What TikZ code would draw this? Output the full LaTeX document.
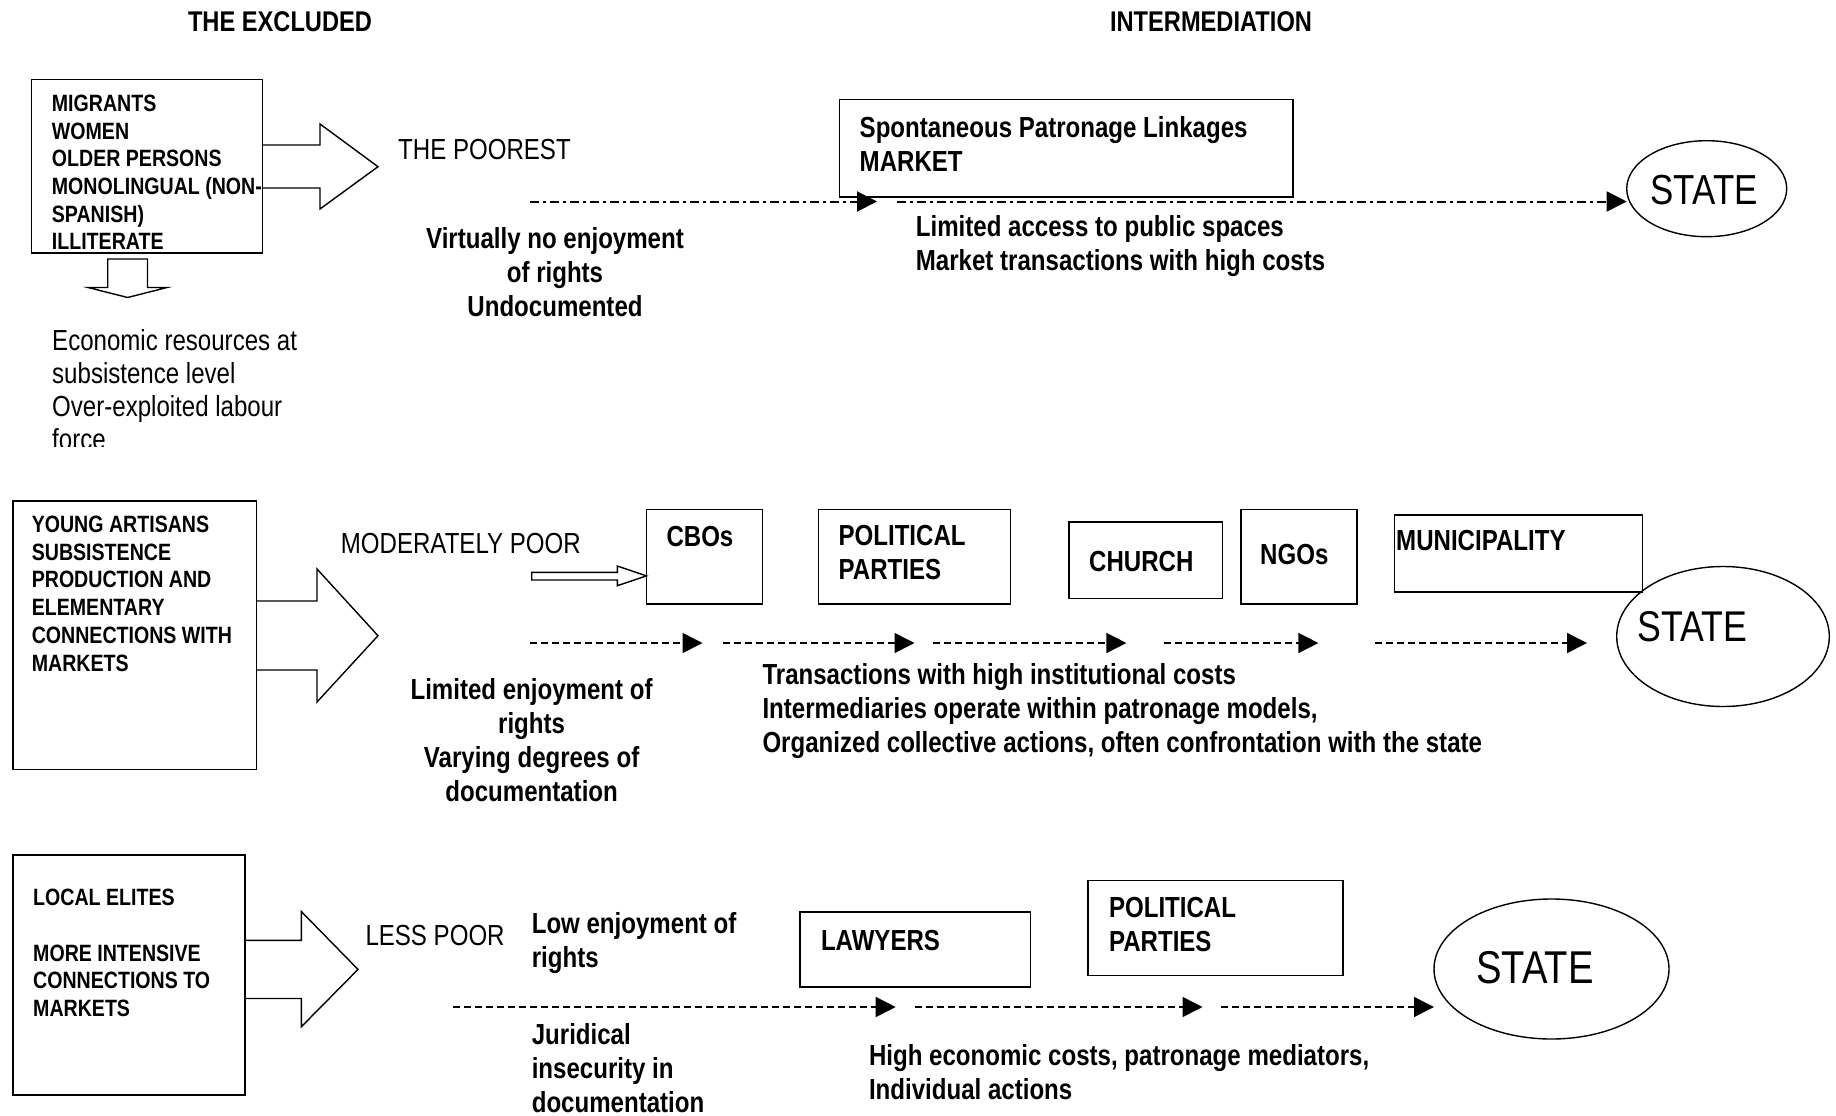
\documentclass[tikz,border=0pt]{standalone}
\usepackage{fontspec}
\setmainfont{Liberation Sans}[FakeStretch=0.83]
\usetikzlibrary{arrows.meta,shapes.geometric,fit}
\begin{document}
\begin{tikzpicture}[x=1pt,y=-1pt,
  box/.style={draw, line width=1.6pt, inner sep=0pt, outer sep=0pt},
  blk/.style={draw, line width=1.4pt, line join=miter},
  bt/.style={font=\fontsize{29}{34}\selectfont\bfseries, inner sep=0pt, align=left, anchor=west},
  bc/.style={font=\fontsize{29}{34}\selectfont\bfseries, inner sep=0pt, align=center, anchor=center},
  rt/.style={font=\fontsize{29}{33}\selectfont, inner sep=0pt, align=left, anchor=west},
  st/.style={font=\fontsize{23.6}{27.7}\selectfont\bfseries, inner sep=0pt, align=left, anchor=west},
  statetxt/.style={inner sep=0pt, font=\fontsize{42}{48}\selectfont},
  ell/.style={draw, ellipse, line width=1.4pt, inner sep=0pt, outer sep=0pt},
  tip/.style={-{Triangle[length=20pt,width=20pt]}},
  dashflow/.style={tip, line width=1.5pt, dash pattern=on 7pt off 4pt},
  dotflow/.style={tip, line width=2pt, dash pattern=on 9pt off 4pt on 3pt off 4pt}
]
\useasboundingbox (0,0) rectangle (1836,1116);

% titles
\node[bc, font=\fontsize{28.5}{34}\selectfont\bfseries] (t1) at (280,22) {THE EXCLUDED};
\node[bc, font=\fontsize{28.5}{34}\selectfont\bfseries] (t2) at (1211,22) {INTERMEDIATION};

% ---------------- Row 1 ----------------
\node[box, fit={(31.6,79.6)(262.3,252.9)}] (b1) {};
\node[st] (b1t) at (51.7,172.5) {MIGRANTS\\WOMEN\\OLDER PERSONS\\MONOLINGUAL (NON-\\SPANISH)\\ILLITERATE};
\draw[blk] (b1.east |- 0,145) -- (320,145) -- (320,124) -- (378,166.7) -- (320,209) -- (320,188) -- (b1.east |- 0,188);
\draw[blk] (107.7,259) -- (107.7,287.5) -- (88,287.5) -- (127.6,297.5) -- (167,287.5) -- (147.5,287.5) -- (147.5,259) -- cycle;
\begin{scope}
\clip (0,300) rectangle (400,446);
\node[rt] (econ) at (52,390) {Economic resources at\\subsistence level\\Over-exploited labour\\force};
\end{scope}
\node[rt] (poorest) at (398,150) {THE POOREST};

\node[box, fit={(839.6,99.5)(1292.7,196.7)}] (market) {};
\node[bt] (markett) at (859.5,144) {Spontaneous Patronage Linkages\\MARKET};
\node[ell, minimum width=160pt, minimum height=96pt] (s1) at (1706.7,188.7) {};
\node[statetxt] (s1t) at (1704,190) {STATE};

\coordinate (r1a) at (530,201.5);
\coordinate (r1b) at (877,201.5);
\coordinate (r1c) at (896.5,201.5);
\draw[dotflow] (r1a) -- (r1b);
\draw[dotflow] (r1c) -- (s1.west |- r1c);

\node[bc] (virt) at (555,271.7) {Virtually no enjoyment\\of rights\\Undocumented};
\node[bt] (limacc) at (915.7,246.5) {Limited access to public spaces\\Market transactions with high costs};

% ---------------- Row 2 ----------------
\node[box, fit={(12.9,501.2)(256.4,769.3)}] (b2) {};
\node[st] (b2t) at (31.6,593.7) {YOUNG ARTISANS\\SUBSISTENCE\\PRODUCTION AND\\ELEMENTARY\\CONNECTIONS WITH\\MARKETS};
\draw[blk] (b2.east |- 0,601) -- (317,601) -- (317,569) -- (378,635.7) -- (317,702) -- (317,670) -- (b2.east |- 0,670);
\node[rt] (modp) at (340.7,543.3) {MODERATELY POOR};

\node[box, fit={(646.4,509.4)(762.3,604.2)}] (cbo) {};
\node[bt] (cbot) at (666.3,536.3) {CBOs};
\node[box, fit={(818.5,509.4)(1010.5,604.2)}] (pp1) {};
\node[bt] (pp1t) at (838.4,552.6) {POLITICAL\\PARTIES};
\node[box, fit={(1069,522.2)(1222.4,598.4)}] (church) {};
\node[bt] (churcht) at (1089,562) {CHURCH};
\node[box, fit={(1241,509.4)(1357,604.2)}] (ngo) {};
\node[bt] (ngot) at (1260,555) {NGOs};
\node[box, fit={(1394.6,515)(1642.3,591.7)}] (muni) {};
\node[bt] (munit) at (1396,541) {MUNICIPALITY};
\node[ell, minimum width=212.6pt, minimum height=140pt] (s2) at (1723,636.5) {};
\node[statetxt, font=\fontsize{43}{48}\selectfont] (s2t) at (1692.5,627) {STATE};

\draw[blk] (531.7,572.3) -- (617.3,572.3) -- (617.3,566) -- (cbo.west |- 0,575.9) -- (617.3,585.7) -- (617.3,580) -- (531.7,580) -- cycle;

\coordinate (r2a) at (530.4,643);
\coordinate (r2b) at (702.5,643);
\coordinate (r2c) at (722.5,643);
\coordinate (r2d) at (914.5,643);
\coordinate (r2e) at (933.2,643);
\coordinate (r2f) at (1126.4,643);
\coordinate (r2g) at (1164,643);
\coordinate (r2h) at (1318.4,643);
\coordinate (r2i) at (1374.6,643);
\coordinate (r2j) at (1587,643);
\draw[dashflow] (r2a) -- (r2b);
\draw[dashflow] (r2c) -- (r2d);
\draw[dashflow] (r2e) -- (r2f);
\draw[dashflow] (r2g) -- (r2h);
\draw[dashflow] (r2i) -- (r2j);

\node[bc] (limenj) at (531.6,740) {Limited enjoyment of\\rights\\Varying degrees of\\documentation};
\node[bt] (trans) at (762.3,711.5) {Transactions with high institutional costs\\Intermediaries operate within patronage models,\\Organized collective actions, often confrontation with the state};

% ---------------- Row 3 ----------------
\node[box, fit={(12.9,854.8)(244.7,1094.8)}] (b3) {};
\node[st] (b3t) at (33,953) {LOCAL ELITES\\[27.7pt]MORE INTENSIVE\\CONNECTIONS TO\\MARKETS};
\draw[blk] (b3.east |- 0,940.3) -- (301.3,940.3) -- (301.3,911.5) -- (358,969.4) -- (301.3,1026.8) -- (301.3,998.5) -- (b3.east |- 0,998.5);
\node[rt] (lessp) at (365.3,935.6) {LESS POOR};
\node[bt] (lowenj) at (531.6,943.2) {Low enjoyment of\\rights};
\node[bt] (jur) at (531.6,1068.5) {Juridical\\insecurity in\\documentation};

\node[box, fit={(799.7,912.2)(1030.4,987.1)}] (law) {};
\node[bt] (lawt) at (820.8,940.3) {LAWYERS};
\node[box, fit={(1087.8,880.5)(1343,975.4)}] (pp2) {};
\node[bt] (pp2t) at (1108.8,925) {POLITICAL\\PARTIES};
\node[ell, minimum width=235pt, minimum height=140pt] (s3) at (1551.5,969) {};
\node[statetxt, font=\fontsize{46}{52}\selectfont] (s3t) at (1535,968) {STATE};

\coordinate (r3a) at (453.2,1007);
\coordinate (r3b) at (895.7,1007);
\coordinate (r3c) at (914.5,1007);
\coordinate (r3d) at (1202.5,1007);
\coordinate (r3e) at (1221.3,1007);
\draw[dashflow] (r3a) -- (r3b);
\draw[dashflow] (r3c) -- (r3d);
\draw[dashflow] (r3e) -- (s3.west |- r3e);

\node[bt] (high) at (868.8,1072.6) {High economic costs, patronage mediators,\\Individual actions};
\end{tikzpicture}
\end{document}
